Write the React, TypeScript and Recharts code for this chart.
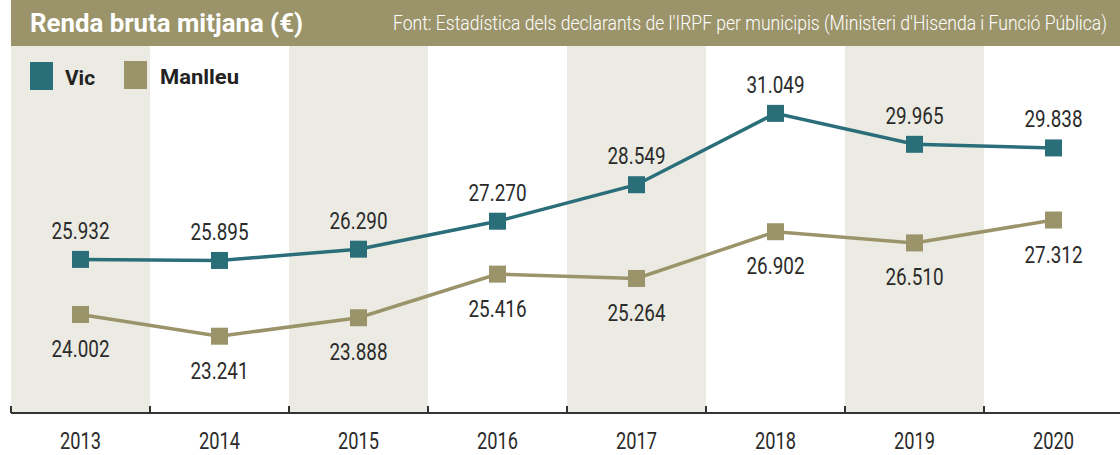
import { ComposedChart, Line, XAxis, YAxis, ReferenceArea, LabelList } from "recharts";

// Dades (renda bruta mitjana en €)
const anys = ["2013", "2014", "2015", "2016", "2017", "2018", "2019", "2020"];
const vic = [25932, 25895, 26290, 27270, 28549, 31049, 29965, 29838];
const manlleu = [24002, 23241, 23888, 25416, 25264, 26902, 26510, 27312];
const anysFranja = ["2013", "2015", "2017", "2019"];

const TEAL = "#2a6e7a";
const OLIVA = "#9b946a";
const FRANJA = "#ecebe3";
const TEXT = "#2b2b2b";
const FONT = "Roboto, 'DejaVu Sans Condensed', sans-serif";

const dades = anys.map((any, i) => ({ any, vic: vic[i], manlleu: manlleu[i] }));

const formatar = (v: number) => String(v).replace(/\B(?=(\d{3})+(?!\d))/g, ".");

const MEITAT_BANDA = 69.5;

function Tick(props: any) {
  const { x, y, payload } = props;
  return (
    <g>
      <line x1={x - MEITAT_BANDA} x2={x - MEITAT_BANDA} y1={y - 7} y2={y} stroke="#333" strokeWidth={2} />
      <text
        x={x - 20.5}
        y={y + 36}
        fill={TEXT}
        fontSize={23}
        fontFamily={FONT}
        textLength={41}
        lengthAdjust="spacingAndGlyphs"
      >
        {payload.value}
      </text>
    </g>
  );
}

const quadrat = (color: string) => (props: any) => {
  const { cx, cy, index } = props;
  return <rect key={`q-${index}`} x={cx - 8.5} y={cy - 8.5} width={17} height={17} fill={color} />;
};

const etiqueta = (dy: number) => (props: any) => {
  const { x, y, value, index } = props;
  return (
    <text
      key={`e-${index}`}
      x={x - 29}
      y={y + dy + 8.5}
      fill={TEXT}
      fontSize={23}
      fontFamily={FONT}
      textLength={58}
      lengthAdjust="spacingAndGlyphs"
    >
      {formatar(value)}
    </text>
  );
};

export default function App() {
  return (
    <div style={{ position: "absolute", left: 0, top: 0, width: 1120, height: 455, overflow: "hidden", background: "#fff" }}>
      <ComposedChart
        width={1123}
        height={455}
        data={dades}
        margin={{ top: 42, right: 0, bottom: 0, left: 11 }}
      >
        {anysFranja.map((a) => (
          <ReferenceArea key={a} x1={a} x2={a} fill={FRANJA} fillOpacity={1} stroke="none" />
        ))}
        <XAxis
          dataKey="any"
          scale="band"
          height={42}
          axisLine={{ stroke: "#333", strokeWidth: 2 }}
          tickLine={false}
          tickSize={0}
          tickMargin={0}
          tick={<Tick />}
          interval={0}
        />
        <YAxis hide width={0} domain={[20550, 33550]} />
        <Line
          dataKey="manlleu"
          type="linear"
          stroke={OLIVA}
          strokeWidth={3.5}
          dot={quadrat(OLIVA)}
          isAnimationActive={false}
        >
          <LabelList dataKey="manlleu" content={etiqueta(34)} />
        </Line>
        <Line
          dataKey="vic"
          type="linear"
          stroke={TEAL}
          strokeWidth={3.5}
          dot={quadrat(TEAL)}
          isAnimationActive={false}
        >
          <LabelList dataKey="vic" content={etiqueta(-29)} />
        </Line>
      </ComposedChart>

      {/* Capçalera i llegenda */}
      <svg width={1120} height={100} style={{ position: "absolute", left: 0, top: 0, pointerEvents: "none" }}>
        <rect x={11} y={0} width={1109} height={46} fill={OLIVA} />
        <text x={30} y={32} fill="#fff" fontSize={25} fontWeight="bold" fontFamily={FONT} textLength={273} lengthAdjust="spacingAndGlyphs">
          Renda bruta mitjana (€)
        </text>
        <text x={1107} y={30} textAnchor="end" fill="#fff" fontSize={20} fontWeight={300} fontFamily={FONT} textLength={714} lengthAdjust="spacingAndGlyphs">
          Font: Estadística dels declarants de l'IRPF per municipis (Ministeri d'Hisenda i Funció Pública)
        </text>
        <rect x={30} y={62} width={23} height={28} fill={TEAL} />
        <text x={65} y={85} fill="#222" fontSize={21} fontWeight="bold" fontFamily={FONT} textLength={30} lengthAdjust="spacingAndGlyphs">Vic</text>
        <rect x={124} y={61} width={23} height={28} fill={OLIVA} />
        <text x={160} y={84} fill="#222" fontSize={21} fontWeight="bold" fontFamily={FONT} textLength={79} lengthAdjust="spacingAndGlyphs">Manlleu</text>
      </svg>
    </div>
  );
}
